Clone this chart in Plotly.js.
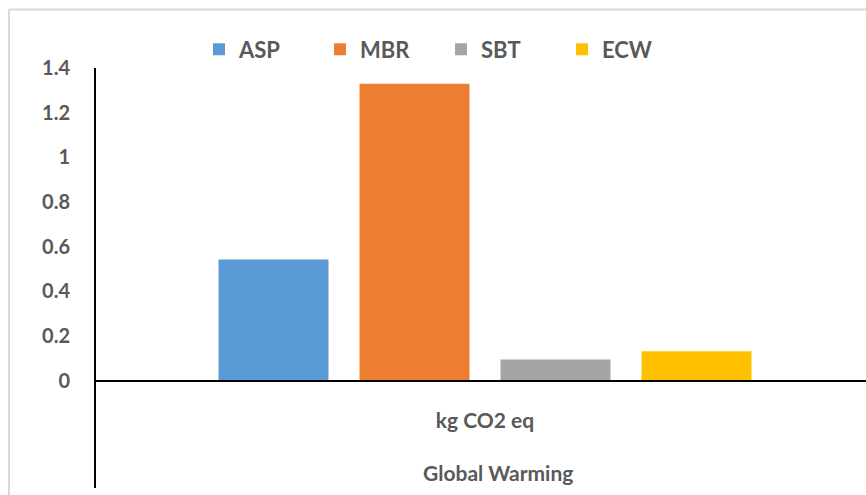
<!DOCTYPE html>
<html>
<head>
<meta charset="utf-8">
<script src="https://cdn.plot.ly/plotly-3.0.1.min.js"></script>
<style>
  html, body { margin: 0; padding: 0; background: #ffffff; }
  #chart { width: 866px; height: 495px; }
</style>
</head>
<body>
<div id="chart"></div>
<script>
// Global warming potential per method (kg CO2 eq)
const category = "kg CO2 eq";
const groupLabel = "Global Warming";
const seriesNames = ["ASP", "MBR", "SBT", "ECW"];
const seriesValues = [0.542, 1.330, 0.095, 0.131];
const seriesColors = ["#5B9BD5", "#ED7D31", "#A5A5A5", "#FFC000"];
const yTicks = [0, 0.2, 0.4, 0.6, 0.8, 1, 1.2, 1.4];
const yTickText = ["0", "0.2", "0.4", "0.6", "0.8", "1", "1.2", "1.4"];

const W = 866, H = 495;
const M = { l: 96, r: 0, t: 67.6, b: 7 };
const plotW = W - M.l - M.r;
const plotH = H - M.t - M.b;
const yMin = -0.481, yMax = 1.4;

// pixel -> paper helpers for decorations placed around the plot area
const px = x => (x - M.l) / plotW;
const py = y => (H - M.b - y) / plotH;

const textColor = "#595959";
const fontFamily = "Lato, 'Open Sans', sans-serif";

const traces = seriesNames.map((name, i) => ({
  type: "bar",
  name: name,
  x: [category],
  y: [seriesValues[i]],
  marker: { color: seriesColors[i], line: { width: 0 } },
  hoverinfo: "name+y"
}));

const layout = {
  width: W,
  height: H,
  margin: M,
  paper_bgcolor: "#ffffff",
  plot_bgcolor: "#ffffff",
  barmode: "group",
  bargap: 0.2675,
  bargroupgap: 0.22,
  showlegend: true,
  legend: {
    orientation: "h",
    x: px(199), xanchor: "left",
    y: py(49), yanchor: "middle",
    font: { family: fontFamily, size: 22, color: textColor, weight: "bold" },
    itemwidth: 30,
    entrywidth: 76,
    traceorder: "normal",
    bgcolor: "rgba(0,0,0,0)"
  },
  xaxis: {
    type: "category",
    range: [-0.5052, 0.4948],
    anchor: "free",
    position: py(380.5),
    showline: true,
    linecolor: "#000000",
    linewidth: 2,
    showgrid: false,
    zeroline: false,
    ticks: "",
    ticklabelstandoff: 21,
    tickfont: { family: fontFamily, size: 21, color: textColor, weight: "bold" },
    fixedrange: true
  },
  yaxis: {
    range: [yMin, yMax],
    tickvals: yTicks,
    ticktext: yTickText,
    showline: true,
    linecolor: "#000000",
    linewidth: 2,
    showgrid: false,
    zeroline: false,
    ticks: "",
    ticklabelstandoff: 20,
    tickfont: { family: fontFamily, size: 20, color: textColor, weight: "bold" },
    fixedrange: true
  },
  annotations: [
    {
      text: groupLabel,
      xref: "paper", yref: "paper",
      x: px(498), y: py(472),
      xanchor: "center", yanchor: "middle",
      showarrow: false,
      font: { family: fontFamily, size: 21, color: textColor, weight: "bold" }
    }
  ],
  shapes: [
    // light chart frame along the top and left edges
    { type: "line", xref: "paper", yref: "paper",
      x0: px(9), x1: px(W + 2), y0: py(9), y1: py(9),
      line: { color: "#D9D9D9", width: 2 } },
    { type: "line", xref: "paper", yref: "paper",
      x0: px(9), x1: px(9), y0: py(9), y1: py(H + 2),
      line: { color: "#D9D9D9", width: 2 } }
  ]
};

Plotly.newPlot("chart", traces, layout, { displayModeBar: false, staticPlot: true });
</script>
</body>
</html>
